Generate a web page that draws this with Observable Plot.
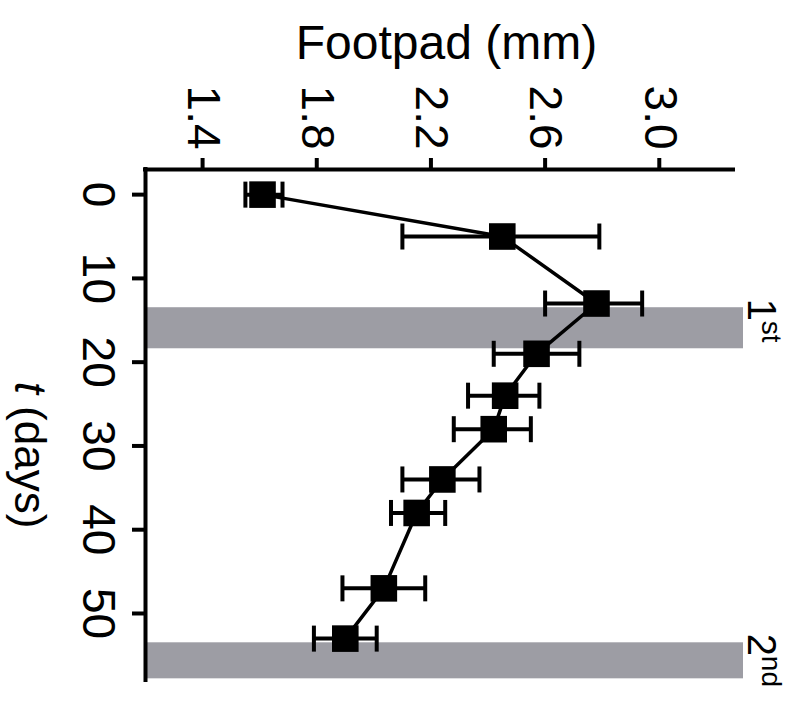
<!DOCTYPE html>
<html><head><meta charset="utf-8">
<script src="https://cdn.jsdelivr.net/npm/d3@7"></script>
<script src="https://cdn.jsdelivr.net/npm/@observablehq/plot@0.6"></script>
<style>html,body{margin:0;padding:0;background:#fff} svg{display:block}</style>
</head><body><div id="chart"></div>
<script>
// ---- data ----
const days     = [0, 5, 13, 19, 24, 28, 34, 38, 47, 53];
const footpad  = [1.61, 2.45, 2.78, 2.57, 2.46, 2.42, 2.24, 2.15, 2.035, 1.90];
const errLow   = [1.55, 2.10, 2.60, 2.42, 2.33, 2.28, 2.10, 2.06, 1.89, 1.79];
const errHigh  = [1.68, 2.79, 2.94, 2.72, 2.58, 2.55, 2.37, 2.25, 2.18, 2.01];
const bandStart  = [13.5, 53.5];
const bandEnd    = [18.4, 57.8];
const bandNumber = ["1", "2"];
const bandSuffix = ["st", "nd"];
const xTicks = [1.4, 1.8, 2.2, 2.6, 3.0];
const yTicks = [0, 10, 20, 30, 40, 50];
const xLabel = "Footpad (mm)";
const yLabel = "t (days)";
const xDomain = [1.2, 3.26];
const yDomain = [-3, 58];

const points = days.map((t, i) => ({t, v: footpad[i], lo: errLow[i], hi: errHigh[i]}));
const bands = bandStart.map((s, i) => ({start: s, end: bandEnd[i], number: bandNumber[i], suffix: bandSuffix[i]}));

const capSymbol = {
  draw(context, size) {
    const h = Math.sqrt(size / Math.PI);
    context.moveTo(0, -h);
    context.lineTo(0, h);
  }
};

const LW = 4;
const chart = Plot.plot({
  width: 799,
  height: 702,
  marginLeft: 145,
  marginTop: 169,
  marginRight: 66,
  marginBottom: 22,
  style: {fontFamily: "'Liberation Sans', Arial, Helvetica, sans-serif", background: "white", overflow: "visible", color: "black"},
  x: {domain: xDomain},
  y: {domain: yDomain, reverse: true},
  marks: [
    Plot.rect(bands, {y1: "start", y2: "end", fill: "#9d9da4", insetRight: -10}),
    Plot.ruleY(points, {y: "t", x1: "lo", x2: "hi", stroke: "black", strokeWidth: LW}),
    Plot.dot(points, {x: "lo", y: "t", symbol: capSymbol, r: 13, stroke: "black", strokeWidth: LW}),
    Plot.dot(points, {x: "hi", y: "t", symbol: capSymbol, r: 13, stroke: "black", strokeWidth: LW}),
    Plot.line(points, {x: "v", y: "t", stroke: "black", strokeWidth: 3.5}),
    Plot.dot(points, {x: "v", y: "t", symbol: "square", r: 15, fill: "black", stroke: "none"}),
    Plot.ruleX([xDomain[0]], {stroke: "black", strokeWidth: LW, strokeLinecap: "square"}),
    Plot.ruleY([yDomain[0]], {stroke: "black", strokeWidth: LW, strokeLinecap: "square"}),
    Plot.axisX(xTicks, {anchor: "top", tickSize: 12, tickRotate: 90, tickPadding: 8, tickFormat: d3.format(".1f"), fontSize: 46, strokeWidth: LW, label: null}),
    Plot.axisY(yTicks, {anchor: "left", tickSize: 13, tickRotate: 90, tickPadding: 17, tickFormat: d3.format("d"), fontSize: 46, strokeWidth: LW, label: null}),
    Plot.text([xLabel], {frameAnchor: "top", lineAnchor: "bottom", dy: -111, dx: 7, fontSize: 48, fill: "black"}),
    Plot.text([yLabel], {frameAnchor: "left", rotate: 90, textAnchor: "middle", lineAnchor: "bottom", dx: -131, dy: 30, fontSize: 44, fill: "black"}),
    Plot.text(bands, {y: "start", text: "number", frameAnchor: "right", rotate: 90, textAnchor: "start", lineAnchor: "bottom", dx: 14, dy: -9, fontSize: 40, fill: "black"}),
    Plot.text(bands, {y: "start", text: "suffix", frameAnchor: "right", rotate: 90, textAnchor: "start", lineAnchor: "bottom", dx: 28, dy: 13, fontSize: 28, fill: "black"})
  ]
});

// italic "t" in the days label
d3.select(chart).selectAll("text").filter(function() { return this.textContent === yLabel; }).each(function() {
  const t = d3.select(this);
  t.text(null);
  t.append("tspan").attr("font-style", "italic").text("t");
  t.append("tspan").text(" (days)");
});

document.getElementById("chart").appendChild(chart);
</script>
</body></html>
